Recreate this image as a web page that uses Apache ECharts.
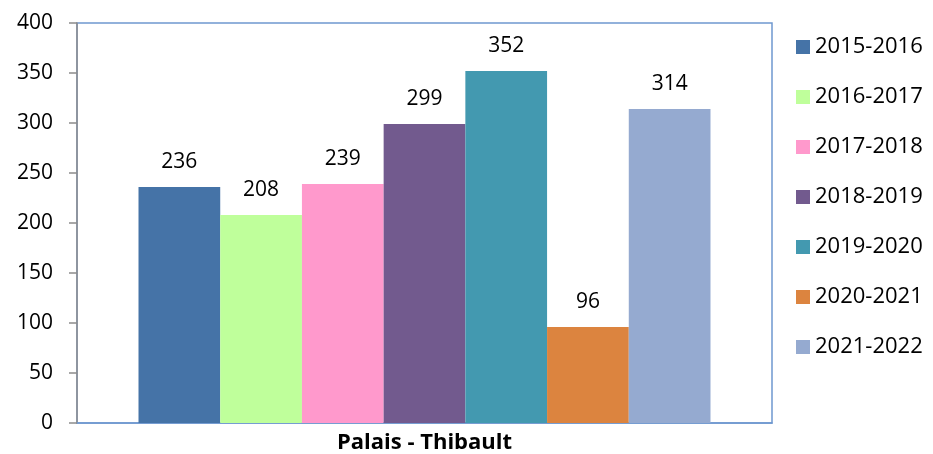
<!DOCTYPE html>
<html>
<head>
<meta charset="utf-8">
<script src="https://cdn.jsdelivr.net/npm/echarts@6/dist/echarts.min.js"></script>
<style>
  html, body { margin: 0; padding: 0; background: #fff; }
  #chart { width: 933px; height: 454px; }
</style>
</head>
<body>
<div id="chart"></div>
<script>
// données
const categories = ["Palais - Thibault"];
const seasons = ["2015-2016", "2016-2017", "2017-2018", "2018-2019", "2019-2020", "2020-2021", "2021-2022"];
const values = [236, 208, 239, 299, 352, 96, 314];
const colors = ["#4573a7", "#bfff9b", "#ff99cc", "#725a8e", "#4399b0", "#dc843f", "#95aad0"];
const yTicks = [0, 50, 100, 150, 200, 250, 300, 350, 400];

const font = "'Open Sans', 'Noto Sans', sans-serif";

let chart = echarts.init(document.getElementById("chart"), null, { renderer: "canvas" });

let series = seasons.map((name, i) => ({
  name: name,
  type: "bar",
  data: [values[i]],
  barGap: "0%",
  barCategoryGap: "17.7%",
  itemStyle: { color: colors[i] },
  label: {
    show: true,
    position: "top",
    distance: 14,
    color: "#000",
    fontSize: 21,
    fontFamily: font,
  },
}));

let option = {
  animation: false,
  grid: {
    left: 77,
    top: 23,
    right: 161,
    bottom: 31,
    show: true,
    borderColor: "#6f98cf",
    borderWidth: 1.5,
    containLabel: false,
  },
  legend: {
    orient: "vertical",
    left: 791,
    top: 31,
    itemWidth: 14,
    itemHeight: 14,
    itemGap: 28,
    icon: "rect",
    textStyle: { color: "#000", fontSize: 22, lineHeight: 22, fontFamily: font },
    data: seasons,
  },
  xAxis: {
    type: "category",
    data: categories,
    axisLine: { show: true, lineStyle: { color: "#6f98cf", width: 1.5 } },
    axisTick: { show: false },
    axisLabel: {
      color: "#000",
      fontSize: 22,
      fontWeight: "bold",
      fontFamily: font,
      margin: 9,
    },
  },
  yAxis: {
    type: "value",
    min: yTicks[0],
    max: yTicks[yTicks.length - 1],
    interval: yTicks[1] - yTicks[0],
    axisLine: { show: true, lineStyle: { color: "#8c8c8c", width: 1.5 } },
    axisTick: { show: true, inside: false, length: 8, lineStyle: { color: "#8c8c8c", width: 1.5 } },
    axisLabel: { color: "#000", fontSize: 21, fontFamily: font, margin: 24 },
    splitLine: { show: false },
  },
  series: series,
};

chart.setOption(option);
</script>
</body>
</html>
